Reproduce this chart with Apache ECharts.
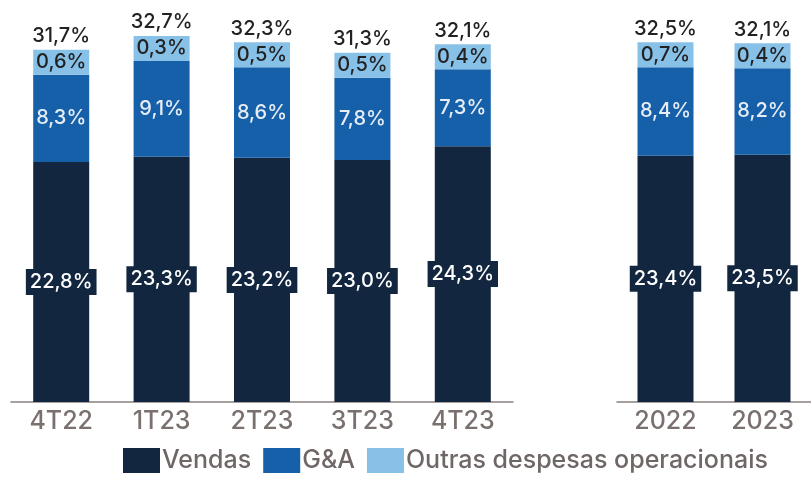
<!DOCTYPE html>
<html><head><meta charset="utf-8">
<script src="https://cdn.jsdelivr.net/npm/echarts@6/dist/echarts.min.js"></script>
<style>html,body{margin:0;padding:0;background:#fff}#c{width:811px;height:479px}</style>
</head><body><div id="c"></div>
<script>
const quarters = ['4T22','1T23','2T23','3T23','4T23'];
const qVendas = [22.8,23.3,23.2,23.0,24.3];
const qGA = [8.3,9.1,8.6,7.8,7.3];
const qOutras = [0.6,0.3,0.5,0.5,0.4];
const qTotal = [31.7,32.7,32.3,31.3,32.1];
const years = ['2022','2023'];
const yVendas = [23.4,23.5];
const yGA = [8.4,8.2];
const yOutras = [0.7,0.4];
const yTotal = [32.5,32.1];

const C_V = '#12263f', C_G = '#1660a9', C_O = '#88c1e8';
const FONT = 'Inter';
const fmt = v => v.toFixed(1).replace('.', ',') + '%';

function seriesFor(idx, vendas, ga, outras, total) {
  const st = 's' + idx;
  return [
    {name:'Vendas', type:'bar', stack:st, xAxisIndex:idx, yAxisIndex:idx, barWidth:56, data:vendas,
     itemStyle:{color:C_V},
     label:{show:true, position:'inside',
            formatter:p=>fmt(p.value), color:'#fff', fontSize:20, fontWeight:500, fontFamily:FONT,
            backgroundColor:C_V, padding:[3,4]}},
    {name:'G&A', type:'bar', stack:st, xAxisIndex:idx, yAxisIndex:idx, barWidth:56, data:ga,
     itemStyle:{color:C_G},
     label:{show:true, position:'inside',
            formatter:p=>fmt(p.value), color:'#e6edf5', fontSize:20, fontWeight:500, fontFamily:FONT}},
    {name:'Outras despesas operacionais', type:'bar', stack:st, xAxisIndex:idx, yAxisIndex:idx, barWidth:56, data:outras,
     barMinHeight:25, itemStyle:{color:C_O},
     label:{show:true, position:'insideBottom', distance:0,
            formatter:p=>'{t|'+fmt(total[p.dataIndex])+'}\n{o|'+fmt(p.value)+'}',
            rich:{t:{fontSize:20, fontFamily:FONT, color:'#222', lineHeight:27, fontWeight:500},
                  o:{fontSize:20, fontFamily:FONT, color:'#222', lineHeight:25, fontWeight:500}}}}
  ];
}

const axisCommon = {
  type:'category', axisTick:{show:false},
  axisLine:{lineStyle:{color:'#8a807d', width:1.5}},
  axisLabel:{color:'#7a716f', fontSize:25, fontFamily:FONT, fontWeight:500, margin:7}
};
const yCommon = {type:'value', min:0, max:38, show:false, splitLine:{show:false}};

const chart = echarts.init(document.getElementById('c'), null, {renderer:'canvas'});
chart.setOption({
  animation:false,
  textStyle:{fontFamily:FONT},
  grid:[{left:11, width:502, top:2, height:400},
        {left:617, width:202, top:2, height:400}],
  xAxis:[Object.assign({gridIndex:0, data:quarters}, axisCommon),
         Object.assign({gridIndex:1, data:years}, axisCommon)],
  yAxis:[Object.assign({gridIndex:0}, yCommon), Object.assign({gridIndex:1}, yCommon)],
  legend:{bottom:1, left:118, itemWidth:37, itemHeight:25, itemGap:12, icon:'rect',
          textStyle:{color:'#6f6766', fontSize:25, fontWeight:500, fontFamily:FONT, padding:[0,0,0,-3]},
          data:['Vendas','G&A','Outras despesas operacionais']},
  series:[].concat(seriesFor(0, qVendas, qGA, qOutras, qTotal), seriesFor(1, yVendas, yGA, yOutras, yTotal))
});
</script></body></html>
